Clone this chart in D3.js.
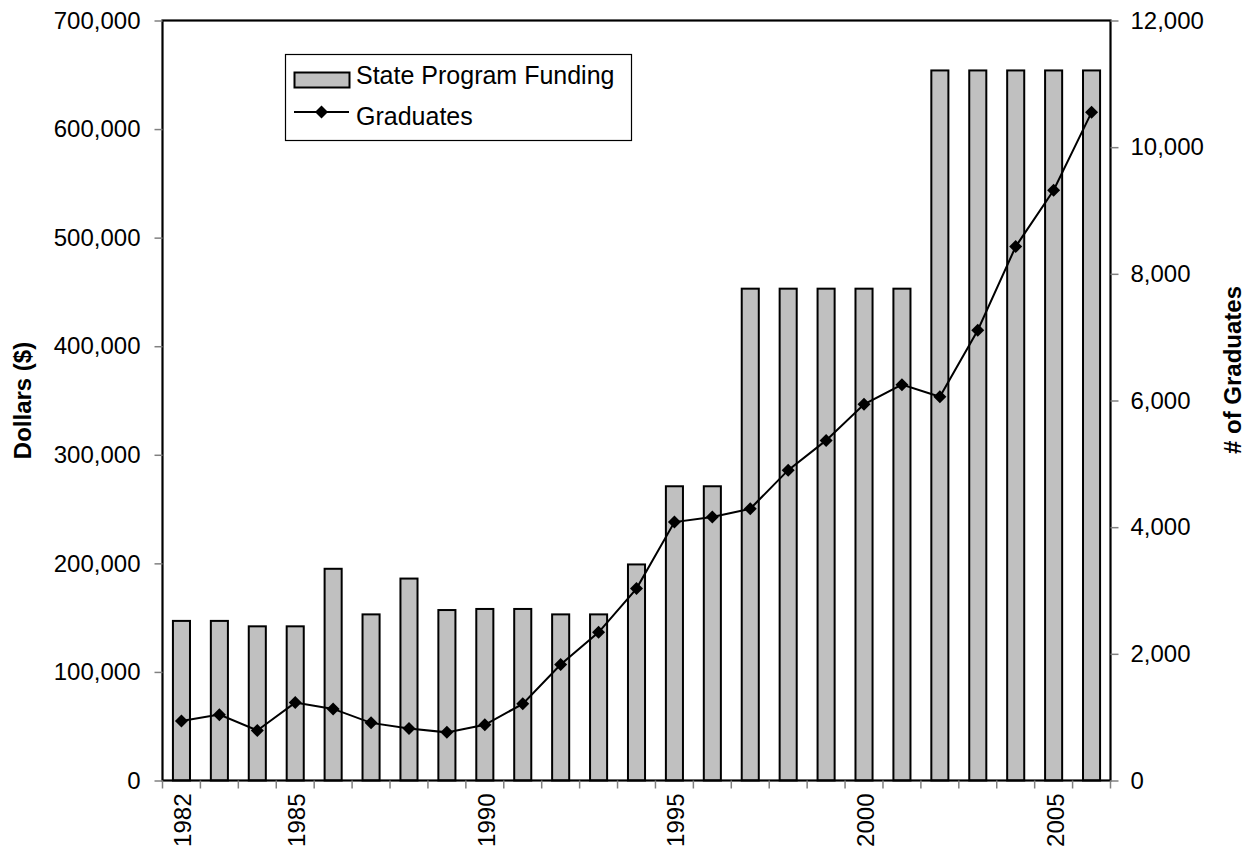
<!DOCTYPE html>
<html>
<head>
<meta charset="utf-8">
<script src="https://cdn.jsdelivr.net/npm/d3@7/dist/d3.min.js"></script>
<style>
  html, body { margin: 0; padding: 0; background: #fff; }
  svg { display: block; font-family: "Liberation Sans", Arial, sans-serif; }
</style>
</head>
<body>
<svg id="chart" width="1250" height="859"></svg>
<script>
const years = [1982,1983,1984,1985,1986,1987,1988,1989,1990,1991,1992,1993,1994,1995,1996,1997,1998,1999,2000,2001,2002,2003,2004,2005,2006];
const funding = [147000,147000,142000,142000,195000,153000,186000,157000,158000,158000,153000,153000,199000,271000,271000,453000,453000,453000,453000,453000,654000,654000,654000,654000,654000];
const graduates = [940,1040,790,1230,1130,910,820,760,880,1210,1830,2340,3030,4080,4160,4290,4900,5370,5940,6250,6060,7110,8430,9320,10550];
const leftTicks = [0,100000,200000,300000,400000,500000,600000,700000];
const rightTicks = [0,2000,4000,6000,8000,10000,12000];
const xLabelYears = [1982,1985,1990,1995,2000,2005];
const seriesNames = ["State Program Funding","Graduates"];
const leftTitle = "Dollars ($)";
const rightTitle = "# of Graduates";

const svg = d3.select("#chart");
const L = 162.5, R = 1110.5, T = 20.5, B = 780.5;
const fmt = d3.format(",");

const x = d3.scaleBand().domain(years).range([L, R]).paddingInner(0).paddingOuter(0);
const yL = d3.scaleLinear().domain([0, 700000]).range([B, T]);
const yR = d3.scaleLinear().domain([0, 12000]).range([B, T]);
const barW = x.bandwidth() * 0.45;

// bars
svg.append("g").selectAll("rect").data(years).join("rect")
  .attr("x", (d) => x(d) + x.bandwidth()/2 - barW/2)
  .attr("y", (d, i) => yL(funding[i]))
  .attr("width", barW)
  .attr("height", (d, i) => B - yL(funding[i]))
  .attr("fill", "#c0c0c0")
  .attr("stroke", "#000")
  .attr("stroke-width", 2);

// plot frame
svg.append("rect").attr("x", L).attr("y", T).attr("width", R - L).attr("height", B - T)
  .attr("fill", "none").attr("stroke", "#000").attr("stroke-width", 2.2);

// left axis
const gL = svg.append("g").attr("transform", `translate(${L},0)`)
  .call(d3.axisLeft(yL).tickValues(leftTicks).tickFormat(fmt).tickSize(8).tickPadding(14));
gL.select(".domain").remove();
gL.selectAll(".tick line").attr("stroke", "#808080").attr("stroke-width", 1.5);
gL.selectAll(".tick text").attr("font-size", 24).attr("fill", "#000").attr("font-family", "Liberation Sans, Arial, sans-serif");

// right axis
const gR = svg.append("g").attr("transform", `translate(${R},0)`)
  .call(d3.axisRight(yR).tickValues(rightTicks).tickFormat(fmt).tickSize(8).tickPadding(12));
gR.select(".domain").remove();
gR.selectAll(".tick line").attr("stroke", "#808080").attr("stroke-width", 1.5);
gR.selectAll(".tick text").attr("font-size", 24).attr("fill", "#000").attr("font-family", "Liberation Sans, Arial, sans-serif");

// bottom ticks at category boundaries
const boundaries = years.map(d => x(d)).concat([R]);
svg.append("g").selectAll("line").data(boundaries).join("line")
  .attr("x1", d => d).attr("x2", d => d).attr("y1", B).attr("y2", B + 8)
  .attr("stroke", "#808080").attr("stroke-width", 1.5);

// bottom labels
svg.append("g").selectAll("text").data(xLabelYears).join("text")
  .attr("transform", d => `translate(${x(d) + x.bandwidth()/2 + 10},${B + 13}) rotate(-90)`)
  .attr("text-anchor", "end")
  .attr("font-size", 24)
  .text(d => d);

// line
const line = d3.line().x((d, i) => x(years[i]) + x.bandwidth()/2).y(d => yR(d));
svg.append("path").datum(graduates).attr("d", line)
  .attr("fill", "none").attr("stroke", "#000").attr("stroke-width", 2);

const diamond = "M0,-6.5L6.5,0L0,6.5L-6.5,0Z";
svg.append("g").selectAll("path").data(graduates).join("path")
  .attr("transform", (d, i) => `translate(${x(years[i]) + x.bandwidth()/2},${yR(d)})`)
  .attr("d", diamond).attr("fill", "#000");

// axis titles
svg.append("text").attr("transform", `translate(31,${(T + B)/2}) rotate(-90)`)
  .attr("text-anchor", "middle").attr("font-size", 24).attr("font-weight", "bold").text(leftTitle);
svg.append("text").attr("transform", `translate(1241,370) rotate(-90)`)
  .attr("text-anchor", "middle").attr("font-size", 24).attr("font-weight", "bold").text(rightTitle);

// legend
const lg = svg.append("g");
lg.append("rect").attr("x", 285.5).attr("y", 54.5).attr("width", 346).attr("height", 86)
  .attr("fill", "#fff").attr("stroke", "#000").attr("stroke-width", 1.2);
lg.append("rect").attr("x", 294.5).attr("y", 72.5).attr("width", 55).attr("height", 15)
  .attr("fill", "#c0c0c0").attr("stroke", "#000").attr("stroke-width", 2);
lg.append("text").attr("x", 356).attr("y", 84).attr("font-size", 25).text(seriesNames[0]);
lg.append("line").attr("x1", 294).attr("x2", 349).attr("y1", 112).attr("y2", 112)
  .attr("stroke", "#000").attr("stroke-width", 2);
lg.append("path").attr("transform", "translate(321.5,112)").attr("d", diamond).attr("fill", "#000");
lg.append("text").attr("x", 356).attr("y", 125).attr("font-size", 25).text(seriesNames[1]);
</script>
</body>
</html>
